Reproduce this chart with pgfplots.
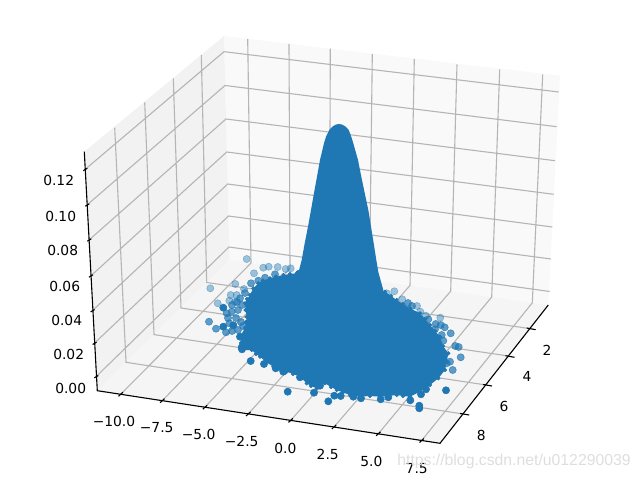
\documentclass[border=0pt]{standalone}
\usepackage{fontspec}
\setmainfont{DejaVu Sans}
\newfontfamily\wmfont{Liberation Sans}
\usepackage{pgfplots}
\pgfplotsset{compat=1.18}
\definecolor{mplblue}{HTML}{1F77B4}
\definecolor{gridc}{HTML}{B5B5B5}
\tikzset{tl/.style={font=\fontsize{10}{12}\selectfont, inner sep=0pt, text=black}}

% everything in its own pixels (x right, y down),
% since the 3D view is in perspective
\pgfplotstableread{
x y
298 272
296.7 273.3
290 274
283.3 275
276 276.5
270 278.3
263 280.5
258.3 283.3
253.3 288.3
250 295
247 299
245 303.3
245.5 310
246.7 316.7
246 322
245 328
240 336.7
241 343
241.7 350
251.7 350
256 354
260 356.7
266 362
273.3 366.7
280 369
286.7 371.7
293 374
300 376.7
306.7 383.3
311 386
316.7 388.3
325 383.3
331 387
336.7 390
343 392.5
350 395
360 396.7
370 396
380 396.7
388 396
396.7 395
403 396
410 396.7
420 391.7
430 385
438.3 378.3
445 370
446.7 362
448.3 353.3
443 346
440 336.7
435 331
430 325
425 319
420 313.3
410 308.3
403 304
396.7 300
391 296
385 291.7
}\blob

\pgfplotstableread{
x y
246.7 259
210.3 288.3
254 273.3
235.3 284
263.3 267.7
268.7 266.7
277.7 267
285.7 269
290.7 268.3
244 289
230.7 295
236.7 295
217.7 303.3
229.3 300.7
235 301.7
394.3 291.3
386.7 293.3
402.3 299.3
417 306
420.3 311.7
425.7 315.7
440.3 317.7
}\fardots

\pgfplotstableread{
x y
251 283.3
258.3 280.7
265 277.7
275 274.3
240 298.3
226.7 313.3
231.7 311.7
209 321.7
216 328.7
229.3 323.3
226 332.3
232 305
238 310
236 318
241 322
228 318
232 331
238 330
243 326
245 293
242 305
237 302
412 306
408 303
428.3 319.3
435.7 324
440.7 325
444.7 327.3
450.7 333.3
443.3 340.7
441.7 335
435 329.3
455.3 346
458.7 347
450 361.7
452.7 370
460.7 357.3
446.7 363.3
}\middots

\pgfplotstableread{
x y
223.3 307.7
223.3 326.7
233.3 325.3
240 336.7
241.7 347.3
242 349.3
250.7 361
264 364
275.7 368.3
283.3 371.7
287.7 391.7
300 377.3
314 392.7
328.3 401.3
334.3 395.7
340.7 396
320 385.7
353.3 396.7
361 398.3
380.7 399.3
388.3 397.3
410.3 400.3
419.3 405.7
419.3 408.3
421 394.3
426 389.3
446 390.3
}\neardots

\begin{document}
\begin{tikzpicture}
\begin{axis}[
  scale only axis, width=6.4in, height=4.8in,
  xmin=0, xmax=640, ymin=0, ymax=480, y dir=reverse,
  hide axis, clip=false,
  every axis plot/.append style={mark=none},
]
\path[use as bounding box] (axis cs:0,0) rectangle (axis cs:640,480);

% panes
\addplot[fill=black!2.5, draw=none] coordinates {(224,36)(560,75.7)(548.3,305)(229.5,260)} --cycle;
\addplot[fill=black!5, draw=none] coordinates {(84.3,151.7)(224,36)(229.5,260)(97.3,390.7)} --cycle;
\addplot[fill=black!3.8, draw=none] coordinates {(97.3,390.7)(229.5,260)(548.3,305)(440,443.3)} --cycle;

% grid
\addplot[gridc, line width=0.8pt] table {
85 169.5
224 51.7
558.7 92

87 205
225 85.5
556.7 126.7

89 240
226 119
555 160.7

90.7 276
226.7 152
553.7 194.3

92.3 310.7
227.7 184
552.3 227

94.3 343.3
228.5 216
551 259

96 376.7
229 247
549.7 291.5

120.7 394.3
251 263
247.7 39

162.3 400.7
290 268.5
289 44

205 407.2
329.5 274.1
330.3 48.7

248.3 413.9
369.5 279.8
372.3 54

290.7 420.4
410 285.5
414.3 59

334 427
450.7 291.2
457 64.3

378.3 433.8
491.7 297
499.7 69.3

421.7 440.5
532.3 302.8
542.7 74.3

530 328.6
206.7 282.5
201.3 55

508.5 356
181 308
173.3 78.3

486 385
154 334.6
144.7 102.3

463.2 414
126 362.3
114.7 127.7
};

% axis lines and ticks
\addplot[black, line width=0.8pt] table {
84.3 151.7
97.3 390.7
440 443.3
548.3 305
};
\addplot[black, line width=0.8pt] table {
83.3 170.7
87.3 168.3

85.3 206.2
89.3 203.8

87.3 241.2
91.3 238.8

89 277.2
93 274.8

90.6 311.9
94.6 309.5

92.6 344.5
96.6 342.1

94.3 377.9
98.3 375.5

118.5 396.3
122.9 392.3

160.1 402.7
164.5 398.7

202.8 409.2
207.2 405.2

246.1 415.9
250.5 411.9

288.5 422.4
292.9 418.4

331.8 429
336.2 425

376.1 435.8
380.5 431.8

419.5 442.5
423.9 438.5

526.7 328
535.7 329.7

505.5 355.7
514.5 357.3

483 384.5
492 386

460.2 413.5
469.2 415
};

% tick labels
\node[tl] at (axis cs:58.7,180) {0.12};
\node[tl] at (axis cs:60.7,216) {0.10};
\node[tl] at (axis cs:62.7,250.7) {0.08};
\node[tl] at (axis cs:64.7,286) {0.06};
\node[tl] at (axis cs:66.7,320) {0.04};
\node[tl] at (axis cs:68.7,354) {0.02};
\node[tl] at (axis cs:70.7,388.3) {0.00};
\node[tl] at (axis cs:114,421) {−10.0};
\node[tl] at (axis cs:156.7,427.3) {−7.5};
\node[tl] at (axis cs:198.7,434) {−5.0};
\node[tl] at (axis cs:241.7,441) {−2.5};
\node[tl] at (axis cs:285.3,448.3) {0.0};
\node[tl] at (axis cs:327.7,454.3) {2.5};
\node[tl] at (axis cs:371.3,461) {5.0};
\node[tl] at (axis cs:416.7,468.7) {7.5};
\node[tl] at (axis cs:547,350) {2};
\node[tl] at (axis cs:527,376.7) {4};
\node[tl] at (axis cs:504,406) {6};
\node[tl] at (axis cs:481.3,435) {8};

% scatter: faded far points, then the solid mass and its edge, then near points
\addplot[only marks, mark=*, mark size=2.6pt, mark options={draw=mplblue, fill=mplblue, opacity=0.42}] table[x=x, y=y] {\fardots};
\addplot[only marks, mark=*, mark size=2.6pt, mark options={draw=mplblue, fill=mplblue, opacity=0.7}] table[x=x, y=y] {\middots};
\addplot[fill=mplblue, draw=none] table[x=x, y=y] {\blob} --cycle;
\addplot[only marks, mark=*, mark size=1.3pt, mark options={draw=mplblue, fill=mplblue}] table[x=x, y=y] {\blob};
\addplot[only marks, mark=*, mark size=2.6pt, mark options={draw=mplblue, fill=mplblue}] table[x=x, y=y] {\neardots};
% peak
\addplot[fill=mplblue, draw=none] coordinates {
  (296,280)(298.3,273)(301.7,260)(304.7,243.3)(308,226.7)(311,210)(314,193)(317,176.7)
  (320,160)(324,143.3)(326,136.7)(329.3,130)(331.5,127.5)(333.3,126)(336,124.6)(339,124)
  (342,124.6)(344.7,126)(346.5,127.5)(348.7,130)(351.3,136.7)(353.3,143.3)(358,160)
  (361.3,176.7)(364.7,193)(368.3,210)(371,226.7)
  (373.7,243.3)(376.3,260)(378.3,272)(383.3,290)(385,300)(296,300)
} --cycle;

% watermark
\node[font=\wmfont\fontsize{11.4}{14}\selectfont, text=black!13, inner sep=0pt] at (axis cs:514,461) {https://blog.csdn.net/u012290039};
\end{axis}
\end{tikzpicture}
\end{document}
